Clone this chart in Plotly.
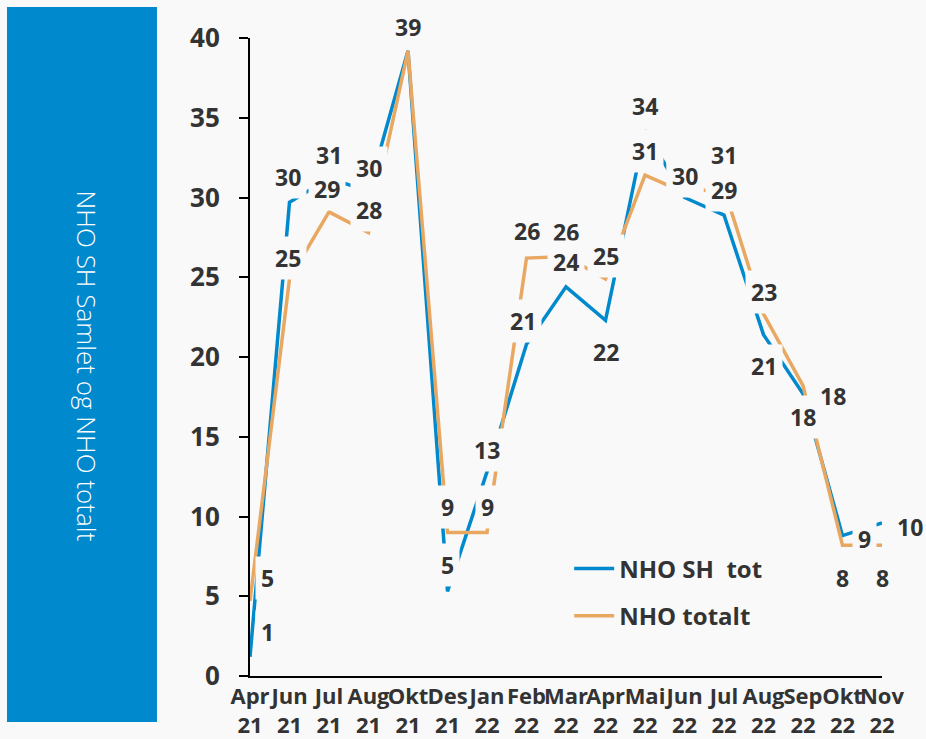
import plotly.graph_objects as go

categories = ["Apr 21", "Jun 21", "Jul 21", "Aug 21", "Okt 21", "Des 21", "Jan 22", "Feb 22",
              "Mar 22", "Apr 22", "Mai 22", "Jun 22", "Jul 22", "Aug 22", "Sep 22", "Okt 22", "Nov 22"]
tick_labels = [c.replace(" ", "<br>") for c in categories]

nho_sh_tot = [1.2, 29.7, 31.2, 30.4, 39.2, 5.3, 12.8, 20.8, 24.4, 22.3, 34.2, 30.0, 28.9, 21.4, 17.7, 8.8, 9.6]
nho_totalt = [4.7, 24.9, 29.1, 27.8, 39.2, 9.0, 9.0, 26.2, 26.3, 24.9, 31.4, 30.3, 30.6, 22.7, 18.2, 8.2, 8.2]

series_names = ["NHO SH\u00a0 tot", "NHO totalt"]
y_title = "NHO SH Samlet og NHO totalt"

# label offsets in pixels (style only)
sh_label_shift = [(17, 25), (-2, 25), (0, 23), (0, 23), (0, 24), (0, 26), (0, 22), (-4, 23), (0, 25),
                  (0, -32), (0, 25), (0, 22), (0, 25), (0, -31), (0, -23), (22, -3), (28, -4)]
tot_label_shift = [(17, 23), (-2, 21), (-2, 23), (0, 23), (0, 24), (0, 25), (0, 25), (0, 27), (0, 25),
                   (0, 23), (0, 24), (0, 18), (0, 33), (0, 22), (30, -10), (0, -33), (0, -33)]

BLUE = "#0089CD"
ORANGE = "#E9A862"
BG = "#F9F9F9"
TXT = "#333333"
FONT = "Open Sans"

fig = go.Figure()
fig.add_trace(go.Scatter(x=categories, y=nho_sh_tot, mode="lines", name=series_names[0],
                         line=dict(color=BLUE, width=3.5), legend="legend", hoverinfo="skip"))
fig.add_trace(go.Scatter(x=categories, y=nho_totalt, mode="lines", name=series_names[1],
                         line=dict(color=ORANGE, width=3.5), legend="legend2", hoverinfo="skip"))

annotations = []
for vals, shifts in ((nho_totalt, tot_label_shift), (nho_sh_tot, sh_label_shift)):
    for c, v, (dx, dy) in zip(categories, vals, shifts):
        annotations.append(dict(x=c, y=v, xref="x", yref="y", text=str(int(round(v))),
                                showarrow=False, xshift=dx, yshift=dy, bgcolor=BG, borderpad=5,
                                font=dict(family=FONT, size=23, color=TXT, weight="bold")))

annotations.append(dict(x=-0.289, y=0.486, xref="paper", yref="paper", text=y_title,
                        showarrow=False, textangle=90,
                        font=dict(family=FONT, size=26, color="white", weight=300)))

legend_style = dict(xanchor="left", yanchor="middle", bgcolor="rgba(0,0,0,0)", borderwidth=0,
                    itemwidth=40, font=dict(family=FONT, size=24, color=TXT, weight="bold"))

fig.update_layout(
    width=926, height=739,
    margin=dict(l=250, r=44, t=38, b=63, autoexpand=False),
    paper_bgcolor=BG, plot_bgcolor=BG,
    showlegend=True,
    legend=dict(x=0.505, y=0.168, **legend_style),
    legend2=dict(x=0.505, y=0.094, **legend_style),
    annotations=annotations,
    shapes=[dict(type="rect", xref="paper", yref="paper", x0=-0.3845, x1=-0.1472,
                 y0=-0.0721, y1=1.0486, fillcolor=BLUE, line=dict(width=0), layer="above")],
    xaxis=dict(type="category", range=[0, len(categories) - 1], tickvals=categories,
               ticktext=tick_labels, tickangle=0, automargin=False,
               showline=True, linecolor="black", linewidth=2,
               ticks="", showgrid=False, zeroline=False,
               tickfont=dict(family=FONT, size=22, color=TXT, weight="bold")),
    yaxis=dict(range=[0, 40], dtick=5, showline=True, linecolor="black", linewidth=2,
               ticks="outside", ticklen=9, tickwidth=2, tickcolor="black", automargin=False,
               ticklabelstandoff=14, showgrid=False, zeroline=False,
               tickfont=dict(family=FONT, size=26, color=TXT, weight="bold")),
)

fig.write_html("out.html", config={"displayModeBar": False},
               post_script="document.body.style.margin='0';document.body.style.background='#F9F9F9';")
